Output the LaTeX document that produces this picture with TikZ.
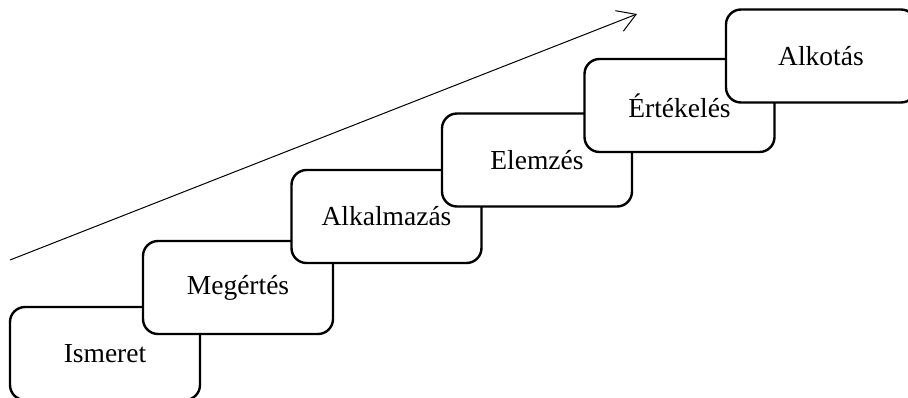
\documentclass[tikz,border=0pt]{standalone}
\usepackage{fontspec}
\setmainfont{Liberation Serif}
\usetikzlibrary{arrows.meta}
\tikzset{
  stepbox/.style={draw=black, fill=white, line width=2.4pt, rounded corners=15pt,
    minimum width=190pt, minimum height=93pt, inner sep=0pt,
    font=\fontsize{27.5}{32}\selectfont},
  growarrow/.style={line width=1pt, -{Straight Barb[length=18pt,width=22pt,line width=1pt]}}
}
\begin{document}
\begin{tikzpicture}[x=1pt,y=-1pt]
\useasboundingbox (0,0) rectangle (908,397);
\clip (0,0) rectangle (908,397);
\node[stepbox] (b1) at (105,353.5) {Ismeret};
\node[stepbox] (b2) at (238,287.5) {Megértés};
\node[stepbox] (b3) at (386.5,216.5) {Alkalmazás};
\node[stepbox] (b4) at (537,160) {Elemzés};
\node[stepbox] (b5) at (679.5,105.5) {Értékelés};
\node[stepbox] (b6) at (821,56) {Alkotás};
\coordinate (s) at (10,260);
\coordinate (e) at (637,14);
\draw[growarrow] (s) -- (e);
\end{tikzpicture}
\end{document}
